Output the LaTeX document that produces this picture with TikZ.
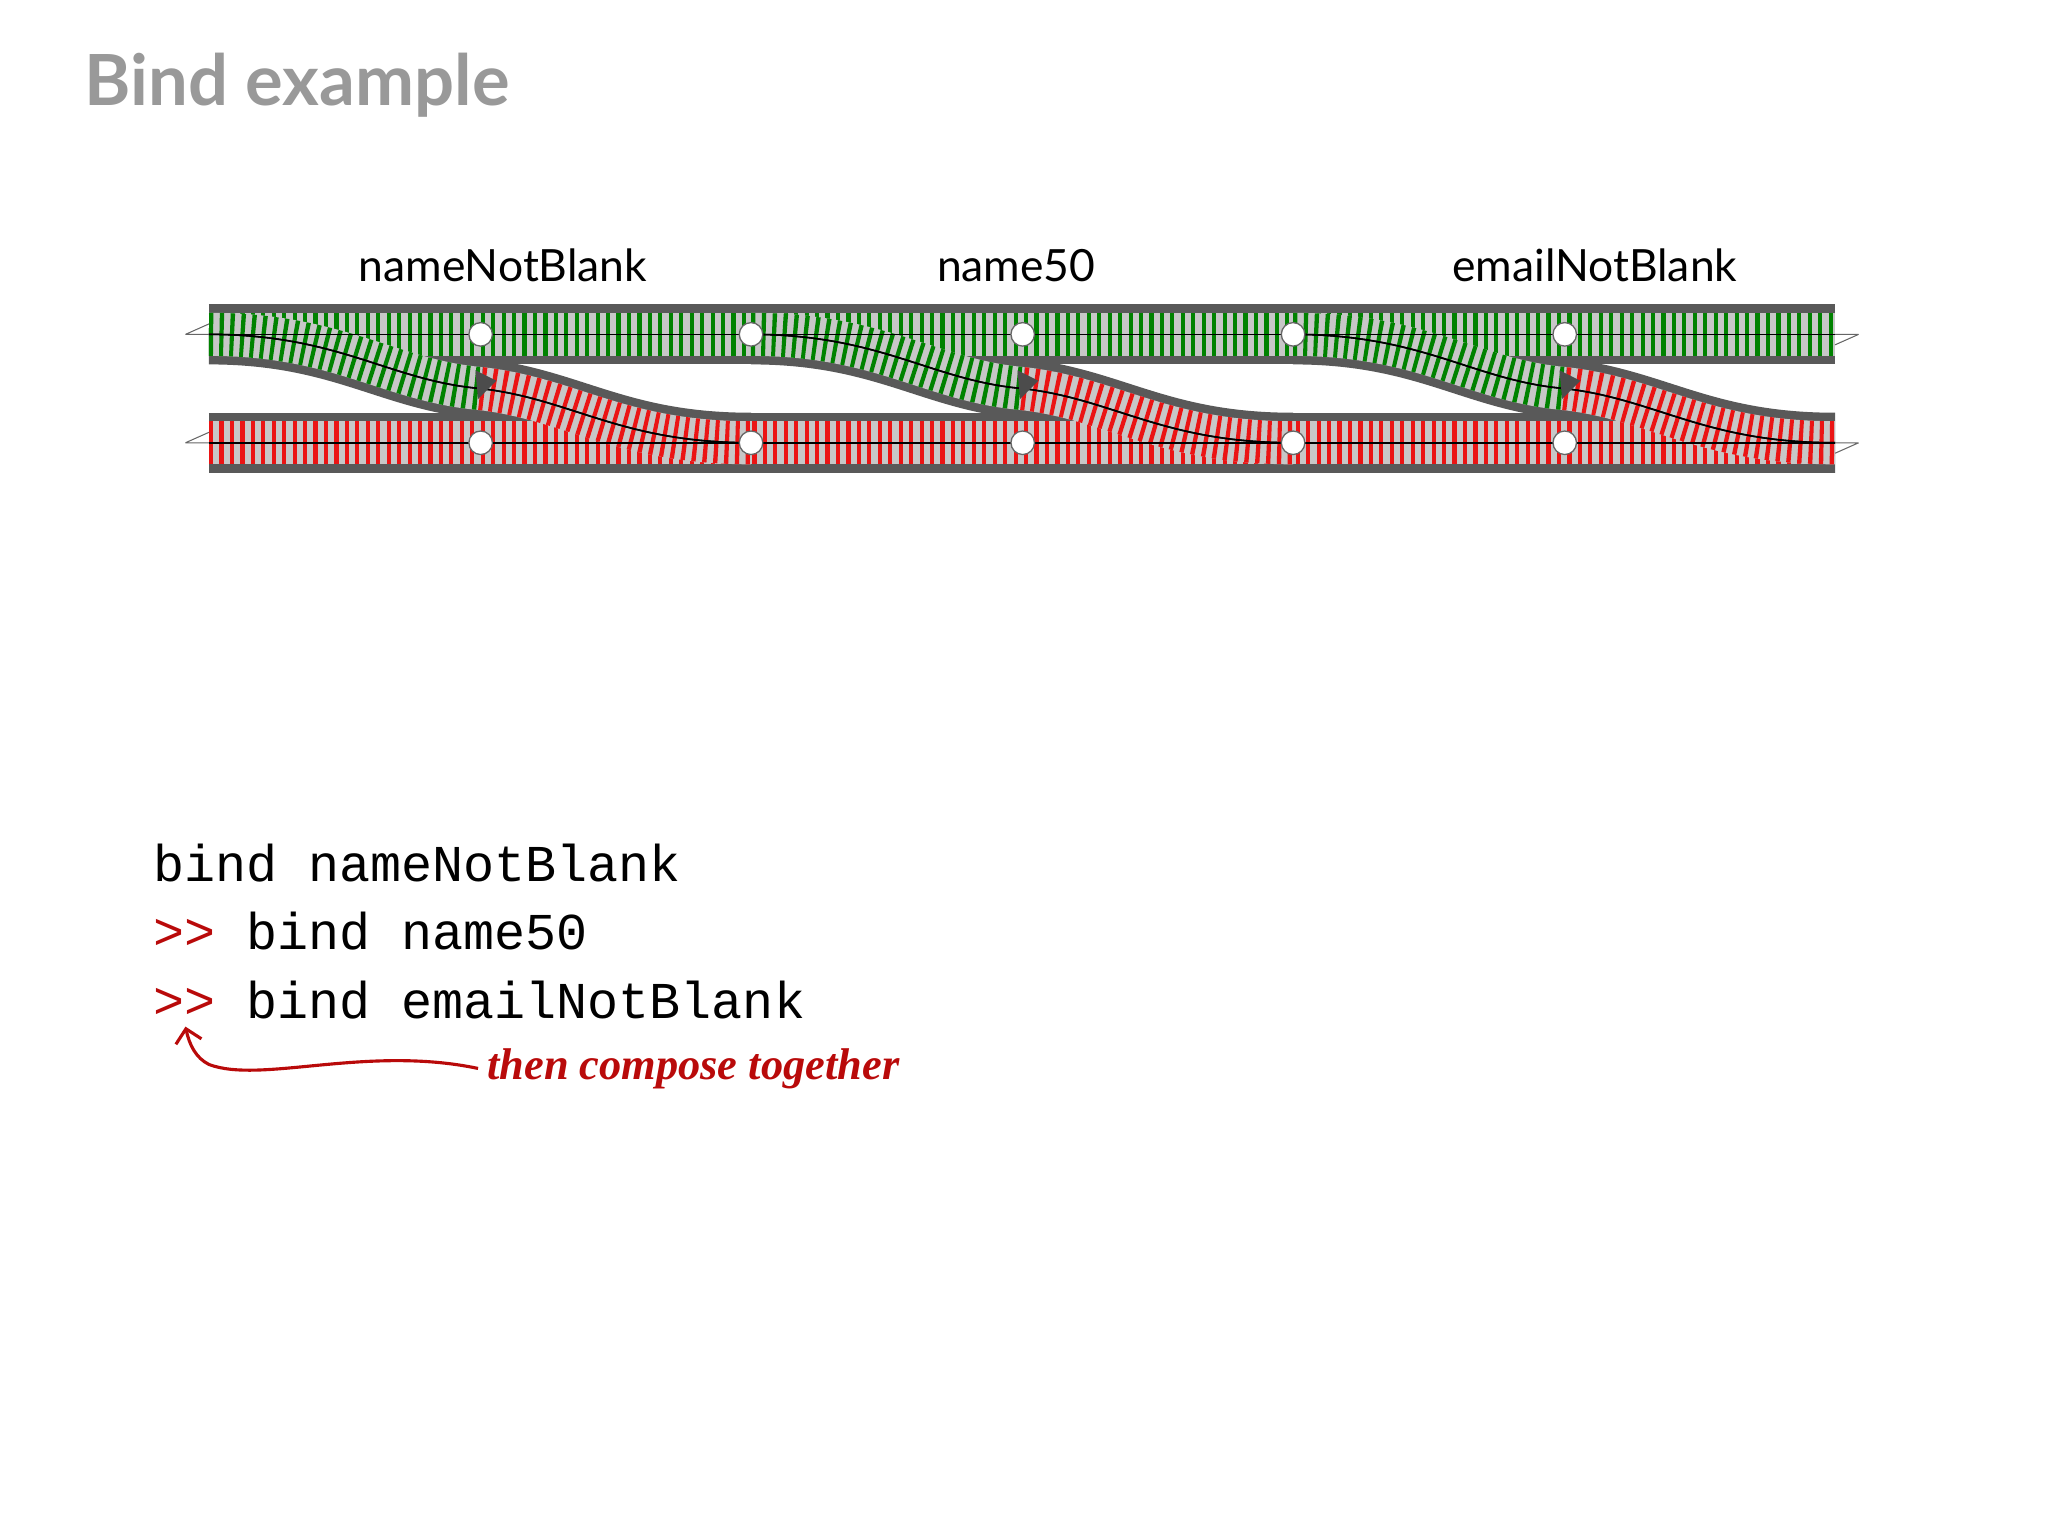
\documentclass[tikz,border=0pt]{standalone}
\usepackage{fontspec}
\setmainfont{Lato}
\setmonofont{Liberation Mono}
\newfontfamily\hand{Liberation Serif}
\usetikzlibrary{arrows.meta,calc}
\definecolor{tgreen}{RGB}{0,130,0}
\definecolor{tred}{RGB}{235,20,20}
\definecolor{dred}{RGB}{185,10,10}
\begin{document}
\begin{tikzpicture}[x=0.5pt,y=-0.5pt,
  base/.style={line width=23pt,draw=black!65},
  bed/.style={line width=16.5pt,draw=black!22},
  ties/.style={line width=16.5pt,dash pattern=on 1.6pt off 2.4pt},
  rail/.style={line width=0.6pt,draw=black},
  hole/.style={circle,fill=white,draw=black!60,line width=0.5pt,minimum size=9pt,inner sep=0pt},
  lbl/.style={font=\fontsize{17}{20}\selectfont},
  code/.style={font=\ttfamily\fontsize{19.8}{24}\selectfont,anchor=base west,inner sep=0pt}]
\useasboundingbox (0,0) rectangle (1568,1176);
\node[anchor=west,text=black!40,font=\bfseries\fontsize{27}{32}\selectfont] (title) at (58,65) {Bind example};
\foreach \i/\x in {0/160,1/368,2/575,3/783,4/990,5/1198,6/1405}{
  \coordinate (t\i) at (\x,256); \coordinate (b\i) at (\x,339);}
\foreach \m in {1,3,5}{\coordinate (m\m) at ($(t\m)!0.5!(b\m)$);}
% base bands
\draw[base] (t0) -- (t6);
\draw[base] (b0) -- (b6);
\foreach \s/\m/\e in {0/1/2,2/3/4,4/5/6}{
  \draw[base] (t\s) .. controls ++(100,0) and ++(-70,-6) .. (m\m) .. controls ++(70,8) and ++(-100,0) .. (b\e);}
\draw[bed] (t0) -- (t6); \draw[bed] (b0) -- (b6);
\draw[ties,tgreen] (t0) -- (t6);
\draw[ties,tred] (b0) -- (b6);
\foreach \s/\m/\e in {0/1/2,2/3/4,4/5/6}{
  \draw[bed] (t\s) .. controls ++(100,0) and ++(-70,-6) .. (m\m);
  \draw[bed] (m\m) .. controls ++(70,8) and ++(-100,0) .. (b\e);
  \draw[ties,tgreen] (t\s) .. controls ++(100,0) and ++(-70,-6) .. (m\m);
  \draw[ties,tred] (m\m) .. controls ++(70,8) and ++(-100,0) .. (b\e);
  \foreach \o in {-4.2,4.2}{
    \draw[rail,yshift=\o pt] (t\s) .. controls ++(100,0) and ++(-70,-6) .. (m\m) .. controls ++(70,8) and ++(-100,0) .. (b\e);}
  \fill[black!70] ($(m\m)+(-4,-14)$) -- ($(m\m)+(12,-6)$) -- ($(m\m)+(-2,8)$) -- cycle;}
\foreach \o in {-4.2,4.2}{
  \draw[rail,yshift=\o pt] (t0) -- (t6);
  \draw[rail,yshift=\o pt] (b0) -- (b6);}
\draw[black!60,line width=0.4pt] ($(t0)+(-18,0)$) -- ($(t0)+(0,-8)$) ($(t0)+(-18,0)$) -- (t0);
\draw[black!60,line width=0.4pt] ($(b0)+(-18,0)$) -- ($(b0)+(0,-8)$) ($(b0)+(-18,0)$) -- (b0);
\draw[black!60,line width=0.4pt] ($(t6)+(18,0)$) -- ($(t6)+(0,8)$) ($(t6)+(18,0)$) -- (t6);
\draw[black!60,line width=0.4pt] ($(b6)+(18,0)$) -- ($(b6)+(0,8)$) ($(b6)+(18,0)$) -- (b6);
\foreach \i in {1,...,5}{\node[hole] (ht\i) at (t\i) {}; \node[hole] (hb\i) at (b\i) {};}
\node[lbl] (l1) at (385,203) {nameNotBlank};
\node[lbl] (l2) at (778,203) {name50};
\node[lbl] (l3) at (1221,203) {emailNotBlank};
\node[code] (c1) at (117,675) {bind nameNotBlank};
\node[code] (c2) at (117,727) {\textcolor{dred}{>>} bind name50};
\node[code] (c3) at (117,780) {\textcolor{dred}{>>} bind emailNotBlank};
\node[anchor=west,text=dred,font=\hand\itshape\bfseries\fontsize{17}{20}\selectfont] (note) at (366,818) {then compose together};
\coordinate (arr) at (142,786);
\draw[dred,line width=1.2pt,-{Straight Barb[length=5pt]}] (note.west) .. controls (280,800) and (200,830) .. (160,815) .. controls (150,810) and (145,800) .. (arr);
\end{tikzpicture}
\end{document}
